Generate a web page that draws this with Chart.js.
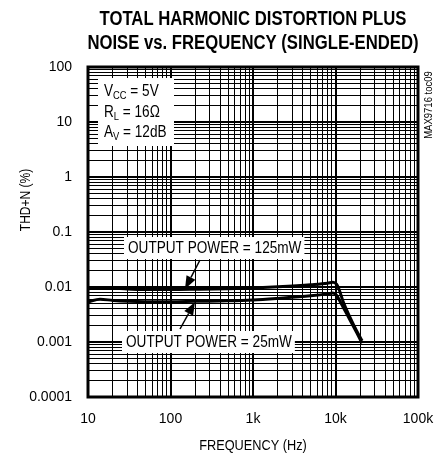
<!DOCTYPE html>
<html>
<head>
<meta charset="utf-8">
<script src="https://cdn.jsdelivr.net/npm/chart.js@4.4.1/dist/chart.umd.min.js"></script>
<style>
  html, body { margin: 0; padding: 0; background: #fff; }
  #wrap { width: 443px; height: 456px; }
</style>
</head>
<body>
<div id="wrap"><canvas id="myChart" width="443" height="456"></canvas></div>
<script>
const freqHz = [10, 14, 20, 30, 50, 100, 200, 500, 1000, 2000, 5000, 8000, 9300, 10300, 11000, 12500, 15000, 18000, 21000];
const thd125mW = [0.0093, 0.0098, 0.0096, 0.0092, 0.009, 0.009, 0.0091, 0.0093, 0.0096, 0.0101, 0.011, 0.0117, 0.0122, 0.0112, 0.0092, 0.0052, 0.0028, 0.0016, 0.00105];
const thd25mW = [0.0054, 0.006, 0.0057, 0.0055, 0.0054, 0.0054, 0.0055, 0.0056, 0.0058, 0.0062, 0.0069, 0.0075, 0.0078, 0.0071, 0.006, 0.0042, 0.0025, 0.0015, 0.00095];

const xTickValues = [10, 100, 1000, 10000, 100000];
const xTickLabels = ["10", "100", "1k", "10k", "100k"];
const yTickValues = [0.0001, 0.001, 0.01, 0.1, 1, 10, 100];
const yTickLabels = ["0.0001", "0.001", "0.01", "0.1", "1", "10", "100"];

const FONT = "'Liberation Sans Narrow', 'Liberation Sans', Arial, sans-serif";

// every 1..9 x 10^n line between the decade ticks
const logGrid = (decades) => {
  const out = [];
  for (let i = 0; i < decades.length - 1; i++) {
    for (let m = 1; m < 10; m++) out.push({ value: decades[i] * m });
  }
  out.push({ value: decades[decades.length - 1] });
  return out;
};

const isDecade = (v) => Math.abs(Math.log10(v) - Math.round(Math.log10(v))) < 1e-6;

const labelFor = (values, labels) => (v) => {
  if (!isDecade(v)) return "";
  const i = values.findIndex((t) => Math.abs(Math.log10(t) - Math.log10(v)) < 1e-6);
  return i >= 0 ? labels[i] : "";
};

const gridWidth = (ctx) => (ctx.tick && isDecade(ctx.tick.value) ? 2 : 1);

// text squeezed sideways, the original uses a narrow face
const narrowText = (ctx, text, x, y, sx) => {
  ctx.save();
  ctx.translate(x, y);
  ctx.scale(sx, 1);
  ctx.fillText(text, 0, 0);
  ctx.restore();
  return ctx.measureText(text).width * sx;
};

// titles, notes and arrows
const decorations = {
  id: "decorations",
  afterDraw(chart) {
    const ctx = chart.ctx;
    const a = chart.chartArea;
    ctx.save();

    // frame
    ctx.strokeStyle = "#000";
    ctx.lineWidth = 3;
    ctx.strokeRect(a.left, a.top, a.right - a.left, a.bottom - a.top);

    // title
    ctx.fillStyle = "#000";
    ctx.textAlign = "center";
    ctx.textBaseline = "middle";
    ctx.font = "bold 20px " + FONT;
    const tsx = 307 / ctx.measureText("TOTAL HARMONIC DISTORTION PLUS").width;
    narrowText(ctx, "TOTAL HARMONIC DISTORTION PLUS", 253, 19, tsx);
    narrowText(ctx, "NOISE vs. FREQUENCY (SINGLE-ENDED)", 253, 43, tsx);

    // axis titles
    ctx.font = "15px " + FONT;
    narrowText(ctx, "FREQUENCY (Hz)", 253, 446, 0.85);
    ctx.save();
    ctx.translate(26, 200);
    ctx.rotate(-Math.PI / 2);
    narrowText(ctx, "THD+N (%)", 0, 0, 0.8);
    ctx.restore();

    // figure id
    ctx.save();
    ctx.translate(429, 105);
    ctx.rotate(-Math.PI / 2);
    ctx.font = "10px " + FONT;
    narrowText(ctx, "MAX9716 toc09", 0, 0, 0.95);
    ctx.restore();

    // conditions box
    ctx.fillStyle = "#fff";
    ctx.fillRect(98, 78, 76, 68);
    ctx.fillStyle = "#000";
    ctx.textAlign = "left";
    const sub = (x, y, main, s, rest) => {
      ctx.font = "16px " + FONT;
      let w = narrowText(ctx, main, x, y, 0.85);
      ctx.font = "11px " + FONT;
      w += narrowText(ctx, s, x + w, y + 4, 0.85);
      ctx.font = "16px " + FONT;
      narrowText(ctx, rest, x + w, y, 0.85);
    };
    sub(104, 92, "V", "CC", " = 5V");
    sub(104, 113, "R", "L", " = 16\u03A9");
    sub(104, 133, "A", "V", " = 12dB");

    // output power labels
    ctx.font = "16px " + FONT;
    const label = (x, y, text) => {
      const w = ctx.measureText(text).width * 0.85;
      ctx.fillStyle = "#fff";
      ctx.fillRect(x - 4, y - 11, w + 7, 22);
      ctx.fillStyle = "#000";
      narrowText(ctx, text, x, y + 1, 0.85);
    };
    label(128, 248, "OUTPUT POWER = 125mW");
    label(126, 342, "OUTPUT POWER = 25mW");

    // arrows
    const arrow = (x1, y1, x2, y2) => {
      const ang = Math.atan2(y2 - y1, x2 - x1);
      const len = 13, half = 5;
      const bx = x2 - len * Math.cos(ang), by = y2 - len * Math.sin(ang);
      ctx.strokeStyle = "#000";
      ctx.lineWidth = 1.5;
      ctx.beginPath();
      ctx.moveTo(x1, y1);
      ctx.lineTo(bx, by);
      ctx.stroke();
      ctx.beginPath();
      ctx.moveTo(x2, y2);
      ctx.lineTo(bx + half * Math.sin(ang), by - half * Math.cos(ang));
      ctx.lineTo(bx - half * Math.sin(ang), by + half * Math.cos(ang));
      ctx.closePath();
      ctx.fill();
    };
    arrow(200, 260, 185, 289);
    arrow(180, 329, 195, 302);

    ctx.restore();
  },
};

const ctx = document.getElementById("myChart").getContext("2d");

const chart = new Chart(ctx, {
  type: "line",
  data: {
    datasets: [
      {
        label: "125mW",
        data: freqHz.map((f, i) => ({ x: f, y: thd125mW[i] })),
        borderColor: "#000",
        borderWidth: 3,
        pointRadius: 0,
        cubicInterpolationMode: "monotone",
      },
      {
        label: "25mW",
        data: freqHz.map((f, i) => ({ x: f, y: thd25mW[i] })),
        borderColor: "#000",
        borderWidth: 3,
        pointRadius: 0,
        cubicInterpolationMode: "monotone",
      },
    ],
  },
  options: {
    responsive: false,
    animation: false,
    events: [],
    layout: { padding: { top: 67, right: 25, left: 0, bottom: 0 } },
    plugins: { legend: { display: false }, tooltip: { enabled: false } },
    scales: {
      x: {
        type: "logarithmic",
        min: 10,
        max: 100000,
        afterBuildTicks: (scale) => { scale.ticks = logGrid(xTickValues); },
        afterFit: (scale) => {
          scale.height = 59;
          scale.paddingLeft = 0;
          scale.paddingRight = 0;
        },
        grid: { color: "#000", lineWidth: gridWidth, drawTicks: false },
        border: { display: false },
        ticks: {
          autoSkip: false,
          maxRotation: 0,
          padding: 14,
          color: "#000",
          font: { family: FONT, size: 14 },
          callback: labelFor(xTickValues, xTickLabels),
        },
      },
      y: {
        type: "logarithmic",
        min: 0.0001,
        max: 100,
        afterBuildTicks: (scale) => { scale.ticks = logGrid(yTickValues); },
        afterFit: (scale) => {
          scale.width = 88;
          scale.paddingTop = 0;
          scale.paddingBottom = 0;
        },
        grid: { color: "#000", lineWidth: gridWidth, drawTicks: false },
        border: { display: false },
        ticks: {
          autoSkip: false,
          padding: 16,
          color: "#000",
          font: { family: FONT, size: 14 },
          callback: labelFor(yTickValues, yTickLabels),
        },
      },
    },
  },
  plugins: [decorations],
});
</script>
</body>
</html>
